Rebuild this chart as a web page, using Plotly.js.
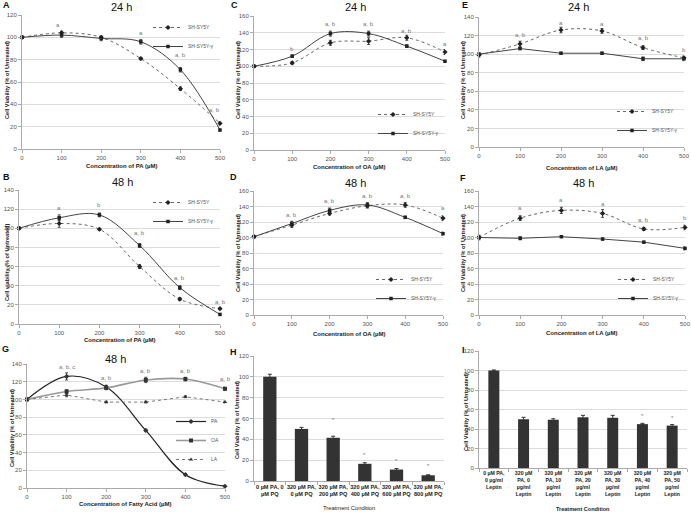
<!DOCTYPE html>
<html><head><meta charset="utf-8">
<script src="https://cdn.plot.ly/plotly-3.0.1.min.js"></script>
<style>html,body{margin:0;padding:0;background:#fff}#chart{width:691px;height:512px}</style>
</head><body><div id="chart"></div>
<script>
// ---------- data ----------
const conc = [0, 100, 200, 300, 400, 500];
const seriesNames = ['SH-SY5Y', 'SH-SY5Y-γ'];

// A: PA 24 h
const pa24_sh = [100, 104, 100, 81, 54, 23];
const pa24_sh_err = [1, 1.5, 1, 1, 1.5, 1.5];
const pa24_g = [100, 102, 99, 96, 71, 17];
const pa24_g_err = [1, 2, 2, 2, 2, 1];
// C: OA 24 h
const oa24_sh = [100, 104, 128, 130, 134, 117];
const oa24_sh_err = [1, 1.5, 3, 4, 3, 3];
const oa24_g = [100, 112, 139, 139, 124, 106];
const oa24_g_err = [1, 1.5, 3, 3, 1.5, 1];
// E: LA 24 h
const la24_sh = [99, 111, 126, 125, 107, 96];
const la24_sh_err = [2, 3, 3, 2.5, 2, 2];
const la24_g = [100, 106, 101, 101, 95, 95];
const la24_g_err = [1, 1, 1, 1, 2, 2];
// B: PA 48 h
const pa48_sh = [100, 105, 99, 60, 26, 16];
const pa48_sh_err = [1, 4, 1, 2, 1.5, 1];
const pa48_g = [100, 111, 114, 82, 38, 10];
const pa48_g_err = [1, 3, 2, 2, 2, 1];
// D: OA 48 h
const oa48_sh = [101, 116, 131, 141, 142, 125];
const oa48_sh_err = [1, 3, 2, 3, 3, 3];
const oa48_g = [101, 118, 135, 142, 126, 105];
const oa48_g_err = [1, 3, 3, 3, 1.5, 2];
// F: LA 48 h
const la48_sh = [100, 125, 135, 131, 111, 113];
const la48_sh_err = [3, 3, 4, 5, 2, 3];
const la48_g = [100, 99, 101, 98, 94, 86];
const la48_g_err = [1, 2, 1, 1, 1, 2];
// G: fatty acids 48 h
const faNames = ['PA', 'OA', 'LA'];
const fa_pa = [100, 126, 114, 65, 15, 2];
const fa_pa_err = [1, 4, 2, 1, 1, 1];
const fa_oa = [100, 109, 113, 122, 123, 112];
const fa_oa_err = [1, 2, 2, 3, 2, 2];
const fa_la = [100, 105, 97, 97, 103, 97];
const fa_la_err = [1, 2, 1, 1, 1, 1];
// H: PQ bars
const pqCats = ['0 µM PA, 0<br>µM PQ', '320 µM PA,<br>0 µM PQ', '320 µM PA,<br>200 µM PQ', '320 µM PA,<br>400 µM PQ', '320 µM PA,<br>600 µM PQ', '320 µM PA,<br>800 µM PQ'];
const pqVals = [100, 50, 41.5, 16.5, 11, 5.5];
const pqErr = [2.5, 1.5, 1.5, 1, 1, 0.5];
const pqStarIdx = [2, 3, 4, 5];
const pqStarY = [59, 25, 19, 14];
// I: leptin bars
const lepCats = ['0 µM PA,<br>0 µg/ml<br>Leptin', '320 µM<br>PA, 0<br>µg/ml<br>Leptin', '320 µM<br>PA, 10<br>µg/ml<br>Leptin', '320 µM<br>PA, 20<br>µg/ml<br>Leptin', '320 µM<br>PA, 30<br>µg/ml<br>Leptin', '320 µM<br>PA, 40<br>µg/ml<br>Leptin', '320 µM<br>PA, 50<br>µg/ml<br>Leptin'];
const lepVals = [100, 50, 49.5, 52, 51.5, 45, 43.5];
const lepErr = [0.5, 2, 1, 2, 2.5, 0.8, 1];
const lepStarIdx = [5, 6];
const lepStarY = [53, 51];

// significance letters (x, y, text) per panel
const sigA = {x: [90, 300, 400, 487], y: [111, 104, 84, 35], t: ['a', 'a', 'a, b', 'a, b']};
const sigC = {x: [100, 200, 300, 400, 500], y: [121, 150, 150, 142, 127], t: ['b', 'a, b', 'a, b', 'a, b', 'a']};
const sigE = {x: [100, 200, 300, 400, 500], y: [121, 134, 133, 117, 104], t: ['a, b', 'a', 'a', 'a, b', 'b']};
const sigB = {x: [100, 200, 300, 400, 500], y: [121, 124, 95, 48, 23], t: ['a', 'b', 'a, b', 'a, b', 'a, b']};
const sigD = {x: [100, 200, 300, 400, 500], y: [129, 147, 153, 154, 138], t: ['a, b', 'a, b', 'a, b', 'a, b', 'a']};
const sigF = {x: [100, 200, 300, 400, 500], y: [138, 148, 143, 123, 125], t: ['a', 'a', 'a', 'a, b', 'b']};
const sigG = {x: [100, 200, 300, 400, 500], y: [137, 124, 132, 132, 123], t: ['a, b, c', 'a, b', 'a, b', 'a, b', 'a, b']};

// ---------- helpers ----------
const FN = "'Liberation Sans Narrow', 'Arial Narrow', 'Liberation Sans', Arial, sans-serif";
const FR = "'Liberation Sans', Arial, sans-serif";
const W = 691, H = 512;
const dx = (a, b) => [a / W, b / W];
const dy = (t, b) => [1 - b / H, 1 - t / H];
const X = p => p / W, Y = p => 1 - p / H;
const sfx = n => n === 1 ? '' : String(n);

const traces = [];
function addSeries(n, name, y, err, kind, shape, legendId) {
  const dot = kind === 'dot';
  traces.push({
    type: 'scatter', x: conc, y: y, name: name,
    xaxis: 'x' + sfx(n), yaxis: 'y' + sfx(n), legend: legendId,
    mode: 'lines+markers', cliponaxis: false,
    line: {color: dot ? '#666' : '#444', width: 1, dash: dot ? 'dot' : 'solid', shape: shape, smoothing: 1},
    marker: {symbol: dot ? 'diamond' : 'square', size: dot ? 4 : 3.5, color: '#222'},
    error_y: {type: 'data', array: err, visible: true, color: '#222', thickness: 0.8, width: 1.5}
  });
}
addSeries(1, seriesNames[0], pa24_sh, pa24_sh_err, 'dot', 'spline', 'legend');
addSeries(1, seriesNames[1], pa24_g, pa24_g_err, 'solid', 'spline', 'legend');
addSeries(2, seriesNames[0], oa24_sh, oa24_sh_err, 'dot', 'spline', 'legend2');
addSeries(2, seriesNames[1], oa24_g, oa24_g_err, 'solid', 'spline', 'legend2');
addSeries(3, seriesNames[0], la24_sh, la24_sh_err, 'dot', 'spline', 'legend3');
addSeries(3, seriesNames[1], la24_g, la24_g_err, 'solid', 'linear', 'legend3');
addSeries(4, seriesNames[0], pa48_sh, pa48_sh_err, 'dot', 'spline', 'legend4');
addSeries(4, seriesNames[1], pa48_g, pa48_g_err, 'solid', 'spline', 'legend4');
addSeries(5, seriesNames[0], oa48_sh, oa48_sh_err, 'dot', 'spline', 'legend5');
addSeries(5, seriesNames[1], oa48_g, oa48_g_err, 'solid', 'spline', 'legend5');
addSeries(6, seriesNames[0], la48_sh, la48_sh_err, 'dot', 'spline', 'legend6');
addSeries(6, seriesNames[1], la48_g, la48_g_err, 'solid', 'linear', 'legend6');

// G
[[faNames[0], fa_pa, fa_pa_err, {color: '#222', width: 1.2, dash: 'solid', shape: 'spline'}, 'diamond'],
 [faNames[1], fa_oa, fa_oa_err, {color: '#999', width: 1.6, dash: 'solid', shape: 'spline'}, 'square'],
 [faNames[2], fa_la, fa_la_err, {color: '#777', width: 1, dash: 'dot', shape: 'linear'}, 'triangle-up']
].forEach(s => traces.push({
  type: 'scatter', x: conc, y: s[1], name: s[0], xaxis: 'x7', yaxis: 'y7', legend: 'legend7',
  mode: 'lines+markers', cliponaxis: false, line: s[3],
  marker: {symbol: s[4], size: 4, color: '#333'},
  error_y: {type: 'data', array: s[2], visible: true, color: '#222', thickness: 0.8, width: 1.5}
}));

// H, I
traces.push({type: 'bar', x: pqCats, y: pqVals, xaxis: 'x8', yaxis: 'y8', width: 0.42, showlegend: false,
  marker: {color: '#333'}, error_y: {type: 'data', array: pqErr, visible: true, color: '#333', thickness: 1, width: 2}});
traces.push({type: 'bar', x: lepCats, y: lepVals, xaxis: 'x9', yaxis: 'y9', width: 0.37, showlegend: false,
  marker: {color: '#333'}, error_y: {type: 'data', array: lepErr, visible: true, color: '#333', thickness: 1, width: 2}});

// ---------- layout ----------
const layout = {
  width: W, height: H, margin: {l: 0, r: 0, t: 0, b: 0},
  paper_bgcolor: '#fff', plot_bgcolor: '#fff',
  font: {family: FR, size: 6, color: '#444'},
  showlegend: true, annotations: []
};
const tickF = {family: FR, size: 6, color: '#555'};
function lineAxes(n, xd, ydm, ymax) {
  layout['xaxis' + sfx(n)] = {domain: xd, anchor: 'y' + sfx(n), range: [0, 500], tickvals: conc,
    showgrid: false, zeroline: false, showline: true, linecolor: '#aaa', linewidth: 1,
    ticks: 'outside', ticklen: 3, tickcolor: '#aaa', tickfont: tickF, fixedrange: true};
  layout['yaxis' + sfx(n)] = {domain: ydm, anchor: 'x' + sfx(n), range: [0, ymax], dtick: 20,
    showgrid: true, gridcolor: '#dcdcdc', gridwidth: 1, zeroline: false, showline: true, linecolor: '#aaa',
    ticks: 'outside', ticklen: 3, tickcolor: '#aaa', tickfont: tickF, fixedrange: true};
}
lineAxes(1, dx(22, 220), dy(15, 149), 120);
lineAxes(2, dx(254, 445), dy(16, 150), 160);
lineAxes(3, dx(479, 684), dy(17, 147), 140);
lineAxes(4, dx(19, 220), dy(190, 324), 140);
lineAxes(5, dx(254, 443), dy(191, 315), 160);
lineAxes(6, dx(479, 685), dy(191, 315), 160);
lineAxes(7, dx(27, 225), dy(364, 488), 140);
function barAxes(n, xd, ydm, cats, fsize) {
  layout['xaxis' + n] = {domain: xd, anchor: 'y' + n, type: 'category', categoryarray: cats,
    showgrid: false, zeroline: false, showline: true, linecolor: '#aaa', ticks: 'outside', tickson: 'boundaries',
    ticklen: 3, tickcolor: '#aaa', tickangle: 0, tickfont: {family: FN, size: fsize, color: '#222', weight: 'bold'}, fixedrange: true};
  layout['yaxis' + n] = {domain: ydm, anchor: 'x' + n, range: [0, 120], dtick: 20,
    showgrid: true, gridcolor: '#dcdcdc', zeroline: false, showline: true, linecolor: '#aaa',
    ticks: 'outside', ticklen: 3, tickcolor: '#aaa', tickfont: tickF, fixedrange: true};
}
barAxes(8, dx(254, 444), dy(356, 481), pqCats, 5.6);
barAxes(9, dx(479, 687), dy(351, 468), lepCats, 5.2);

// legends
const legBase = {font: {family: FN, size: 5, color: '#555'}, bgcolor: 'rgba(255,255,255,0)', borderwidth: 0,
  itemwidth: 30, tracegroupgap: 0, xref: 'paper', yref: 'paper', xanchor: 'right'};
layout.legend = Object.assign({}, legBase, {x: X(219), y: Y(13), yanchor: 'top'});
layout.legend2 = Object.assign({}, legBase, {x: X(444), y: Y(148), yanchor: 'bottom'});
layout.legend3 = Object.assign({}, legBase, {x: X(683), y: Y(145), yanchor: 'bottom'});
layout.legend4 = Object.assign({}, legBase, {x: X(219), y: Y(188), yanchor: 'top'});
layout.legend5 = Object.assign({}, legBase, {x: X(442), y: Y(313), yanchor: 'bottom'});
layout.legend6 = Object.assign({}, legBase, {x: X(684), y: Y(313), yanchor: 'bottom'});
layout.legend7 = Object.assign({}, legBase, {x: X(224), y: Y(474), yanchor: 'bottom'});

// annotations
const A = layout.annotations;
function paperText(text, x, y, opts) {
  A.push(Object.assign({text: text, x: X(x), y: Y(y), xref: 'paper', yref: 'paper', showarrow: false,
    xanchor: 'center', yanchor: 'middle'}, opts));
}
// panel letters
[['A', 6, 5], ['C', 234, 5], ['E', 465, 5], ['B', 6, 177], ['D', 233, 177], ['F', 463, 178], ['G', 5, 349], ['H', 233, 352], ['I', 463, 350]]
  .forEach(l => paperText('<b>' + l[0] + '</b>', l[1], l[2], {font: {family: FR, size: 9, color: '#111'}}));
// panel titles
[['24 h', 121, 7], ['24 h', 355, 7], ['24 h', 578, 7], ['48 h', 123, 182], ['48 h', 355, 183], ['48 h', 583, 183], ['48 h', 115, 359]]
  .forEach(t => paperText(t[0], t[1], t[2], {font: {family: FR, size: 11, color: '#111'}}));
// x titles
const xtF = {family: FN, size: 6, color: '#222', weight: 'bold'};
[['Concentration of PA (µM)', 121, 166], ['Concentration of OA (µM)', 349, 167], ['Concentration of LA (µM)', 582, 168],
 ['Concentration of PA (µM)', 119, 340], ['Concentration of OA (µM)', 349, 334], ['Concentration of LA (µM)', 582, 333],
 ['Concentration of Fatty Acid (µM)', 125, 504]]
  .forEach(t => paperText(t[0], t[1], t[2], {font: xtF}));
paperText('Treatment Condition', 349, 508, {font: {family: FN, size: 5.8, color: '#222'}});
paperText('Treatment Condition', 583, 508.5, {font: {family: FN, size: 5.5, color: '#222', weight: 'bold'}});
// y titles
const ytF = {family: FN, size: 5.6, color: '#222', weight: 'bold'};
[['Cell Viability (% of Untreated)', 7, 80], ['Cell Viability (% of Untreated)', 238, 80], ['Cell Viability (% of Untreated)', 463, 80],
 ['Cell viability (% of Untreated)', 7, 262], ['Cell Viability (% of Untreated)', 238, 253], ['Cell Viability (% of Untreated)', 463, 253],
 ['Cell Viability (% of Untreated)', 12, 428], ['Cell Viability (% of Untreated)', 237, 420], ['Cell Viability (% of Untreated)', 466, 412]]
  .forEach(t => paperText(t[0], t[1], t[2], {font: ytF, textangle: -90}));
// significance letters
[[1, sigA], [2, sigC], [3, sigE], [4, sigB], [5, sigD], [6, sigF], [7, sigG]].forEach(p => {
  const s = p[1];
  s.x.forEach((xv, i) => A.push({text: s.t[i], x: xv, y: s.y[i], xref: 'x' + sfx(p[0]), yref: 'y' + sfx(p[0]),
    showarrow: false, font: {family: FR, size: 6, color: '#777'}}));
});
pqStarIdx.forEach((ci, i) => A.push({text: '*', x: pqCats[ci], y: pqStarY[i], xref: 'x8', yref: 'y8', showarrow: false,
  font: {family: FR, size: 6, color: '#777'}}));
lepStarIdx.forEach((ci, i) => A.push({text: '*', x: lepCats[ci], y: lepStarY[i], xref: 'x9', yref: 'y9', showarrow: false,
  font: {family: FR, size: 6, color: '#777'}}));

Plotly.newPlot('chart', traces, layout, {staticPlot: true, displayModeBar: false});
</script>
</body></html>
